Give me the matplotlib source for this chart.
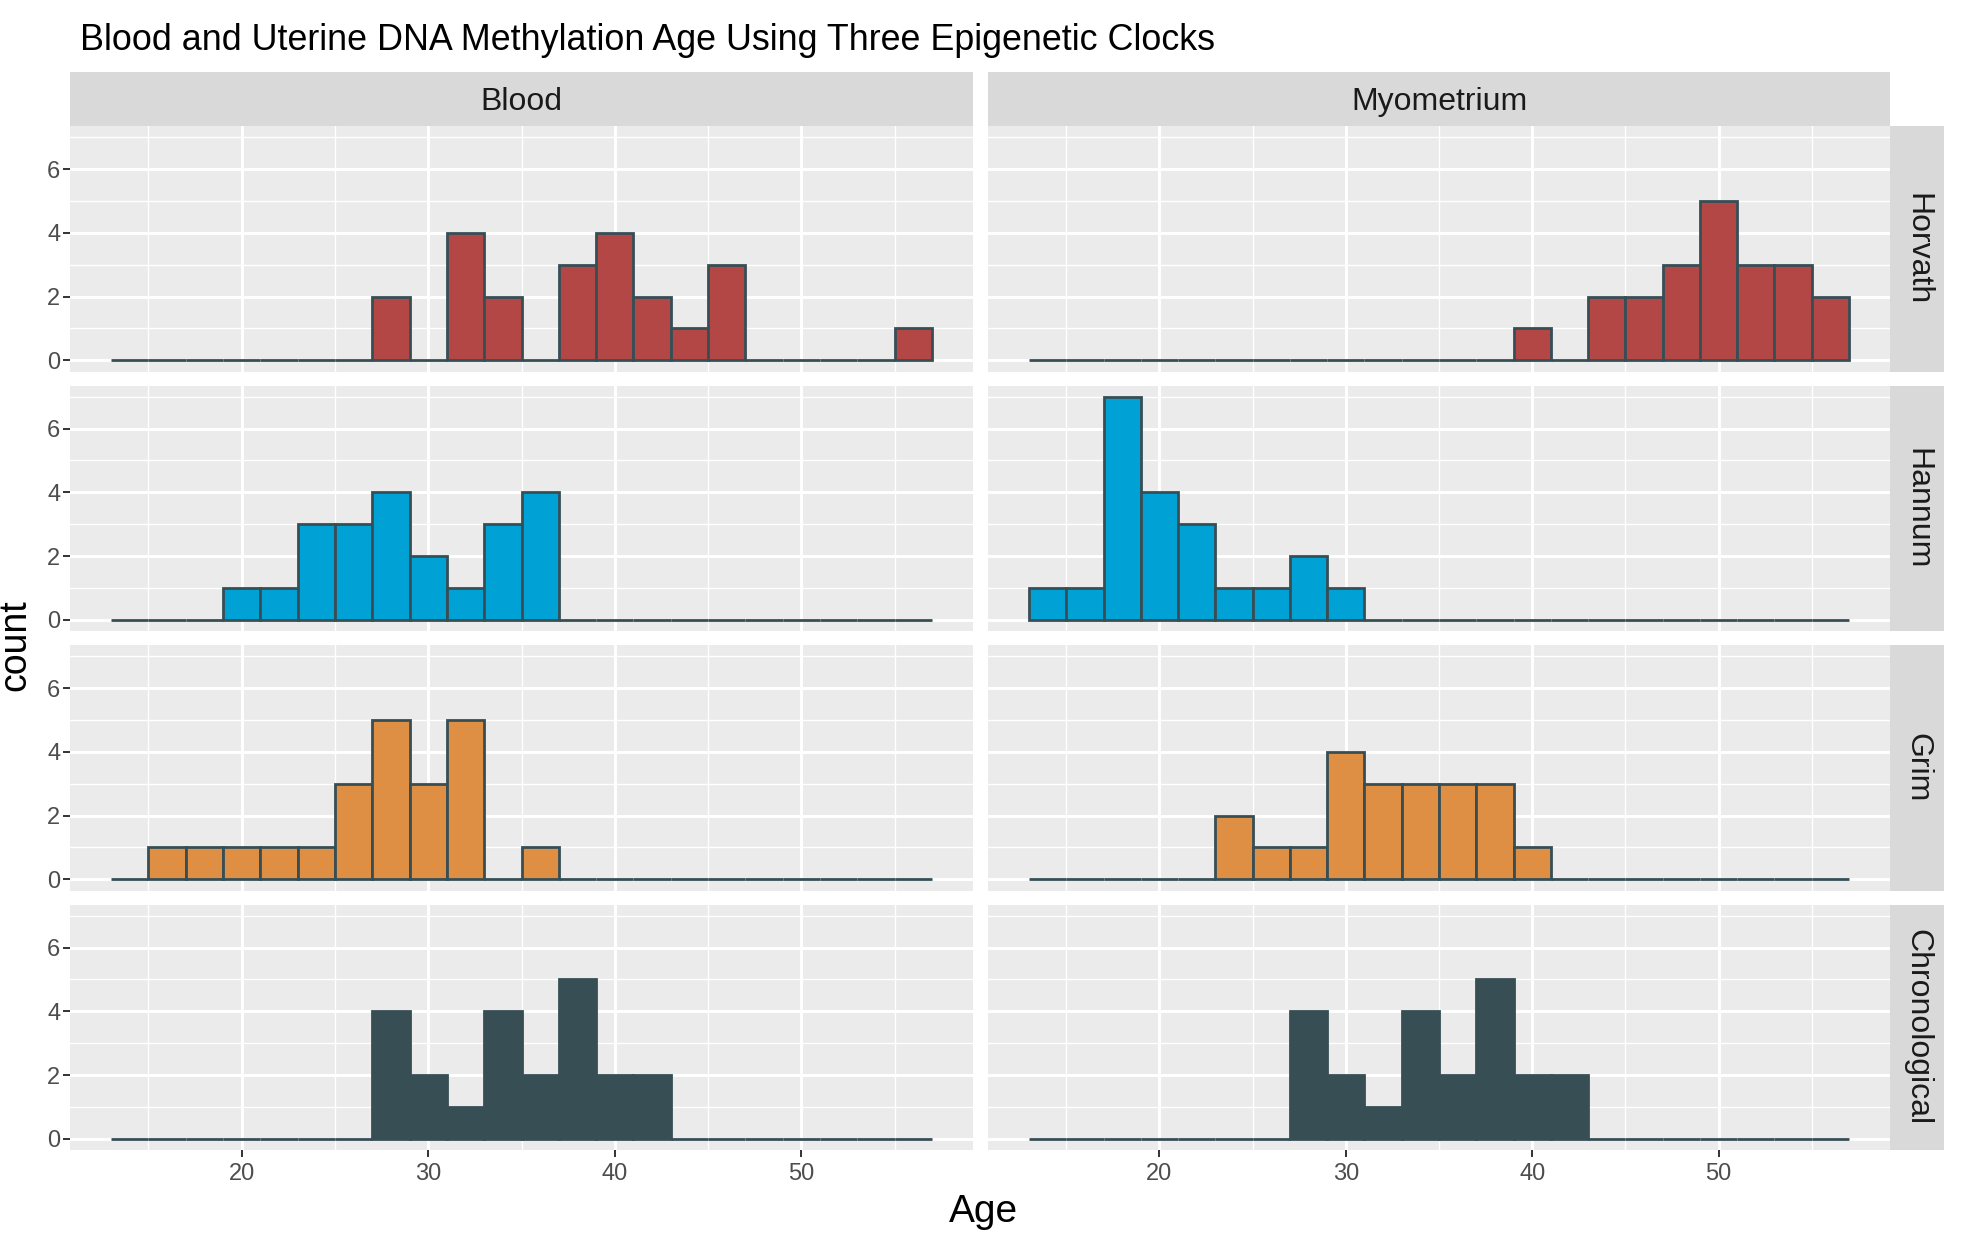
"""
Faceted histograms of DNA methylation age (blood vs. myometrium) for three clocks
plus chronological age, laid out like a ggplot2 facet_grid.
"""

import numpy as np
import matplotlib
matplotlib.use("Agg")
import matplotlib.pyplot as plt

plt.rcParams['font.family'] = ['Liberation Sans', 'DejaVu Sans']

# ---- data -------------------------------------------------------------
bin_left = np.arange(13, 57, 2)          # histogram bins, width 2 years
tissues = ["Blood", "Myometrium"]
clocks = ["Horvath", "Hannum", "Grim", "Chronological"]

blood_horvath = [0, 0, 0, 0, 0, 0, 0, 2, 0, 4, 2, 0, 3, 4, 2, 1, 3, 0, 0, 0, 0, 1]
myo_horvath   = [0, 0, 0, 0, 0, 0, 0, 0, 0, 0, 0, 0, 0, 1, 0, 2, 2, 3, 5, 3, 3, 2]
blood_hannum  = [0, 0, 0, 1, 1, 3, 3, 4, 2, 1, 3, 4, 0, 0, 0, 0, 0, 0, 0, 0, 0, 0]
myo_hannum    = [1, 1, 7, 4, 3, 1, 1, 2, 1, 0, 0, 0, 0, 0, 0, 0, 0, 0, 0, 0, 0, 0]
blood_grim    = [0, 1, 1, 1, 1, 1, 3, 5, 3, 5, 0, 1, 0, 0, 0, 0, 0, 0, 0, 0, 0, 0]
myo_grim      = [0, 0, 0, 0, 0, 2, 1, 1, 4, 3, 3, 3, 3, 1, 0, 0, 0, 0, 0, 0, 0, 0]
blood_chrono  = [0, 0, 0, 0, 0, 0, 0, 4, 2, 1, 4, 2, 5, 2, 2, 0, 0, 0, 0, 0, 0, 0]
myo_chrono    = [0, 0, 0, 0, 0, 0, 0, 4, 2, 1, 4, 2, 5, 2, 2, 0, 0, 0, 0, 0, 0, 0]

counts = {
    ("Horvath", "Blood"): blood_horvath,
    ("Horvath", "Myometrium"): myo_horvath,
    ("Hannum", "Blood"): blood_hannum,
    ("Hannum", "Myometrium"): myo_hannum,
    ("Grim", "Blood"): blood_grim,
    ("Grim", "Myometrium"): myo_grim,
    ("Chronological", "Blood"): blood_chrono,
    ("Chronological", "Myometrium"): myo_chrono,
}

# ggsci JAMA-like colours
fills = {"Horvath": "#B24745", "Hannum": "#00A1D5", "Grim": "#DF8F44", "Chronological": "#374E55"}
edge_col = "#374E55"

# ---- layout (pixels on a 1969x1234 canvas) ------------------------------
W, H = 1969, 1234
fig = plt.figure(figsize=(W / 100, H / 100), dpi=100)
fig.patch.set_facecolor('white')

col_x = [(70, 973), (988, 1890)]
strip_top = (72, 126)
strip_right = (1890, 1944)
row_h = 245.5
row_gap = 14
row_y = [(126 + i * (row_h + row_gap), 126 + i * (row_h + row_gap) + row_h) for i in range(4)]


def px_rect(x0, x1, y0, y1):
    # convert pixel box (top-left origin) to figure fraction
    return [x0 / W, 1 - y1 / H, (x1 - x0) / W, (y1 - y0) / H]


tick_col = "#4D4D4D"
for r, clock in enumerate(clocks):
    for c, tissue in enumerate(tissues):
        ax = fig.add_axes(px_rect(col_x[c][0], col_x[c][1], row_y[r][0], row_y[r][1]))
        ax.set_facecolor('#EBEBEB')
        for s in ax.spines.values():
            s.set_visible(False)

        ax.set_xlim(13 - 2.2, 57 + 2.2)
        ax.set_ylim(-0.35, 7.35)
        ax.set_xticks([20, 30, 40, 50])
        ax.set_xticks([15, 25, 35, 45, 55], minor=True)
        ax.set_yticks([0, 2, 4, 6])
        ax.set_yticks([1, 3, 5, 7], minor=True)
        ax.grid(which='major', color='white', linewidth=2.1)
        ax.grid(which='minor', color='white', linewidth=1.0)
        ax.set_axisbelow(True)

        ax.tick_params(which='minor', length=0)
        ax.tick_params(which='major', length=5, width=1.4, color='#333333',
                       labelsize=17, labelcolor=tick_col, pad=2)
        if c != 0:
            ax.tick_params(axis='y', length=0, labelleft=False)
        if r != len(clocks) - 1:
            ax.tick_params(axis='x', length=0, labelbottom=False)
        else:
            ax.tick_params(axis='x', pad=4)

        ec = fills[clock] if clock == "Chronological" else edge_col
        ax.bar(bin_left, counts[(clock, tissue)], width=2, align='edge',
               color=fills[clock], edgecolor=ec, linewidth=2.0, zorder=3)

        # row strip on the right
        if c == 1:
            sax = fig.add_axes(px_rect(strip_right[0], strip_right[1], row_y[r][0], row_y[r][1]))
            sax.set_facecolor('#D9D9D9')
            sax.set_xticks([])
            sax.set_yticks([])
            for s in sax.spines.values():
                s.set_visible(False)
            sax.text(0.5, 0.5, clock, rotation=-90, ha='center', va='center',
                     fontsize=23, color='#1A1A1A', transform=sax.transAxes)

# column strips on top
for c, tissue in enumerate(tissues):
    sax = fig.add_axes(px_rect(col_x[c][0], col_x[c][1], strip_top[0], strip_top[1]))
    sax.set_facecolor('#D9D9D9')
    sax.set_xticks([])
    sax.set_yticks([])
    for s in sax.spines.values():
        s.set_visible(False)
    sax.text(0.5, 0.45, tissue, ha='center', va='center',
             fontsize=23, color='#1A1A1A', transform=sax.transAxes)

fig.text(80 / W, 1 - 50 / H, "Blood and Uterine DNA Methylation Age Using Three Epigenetic Clocks",
         ha='left', va='baseline', fontsize=25.8, color='black')
fig.text(983 / W, 1 - 1212 / H, "Age", ha='center', va='center', fontsize=28, color='black')
fig.text(15 / W, 1 - 645 / H, "count", rotation=90, ha='center', va='center',
         fontsize=27, color='black')

fig.savefig("out.png", dpi=100, facecolor='white')
